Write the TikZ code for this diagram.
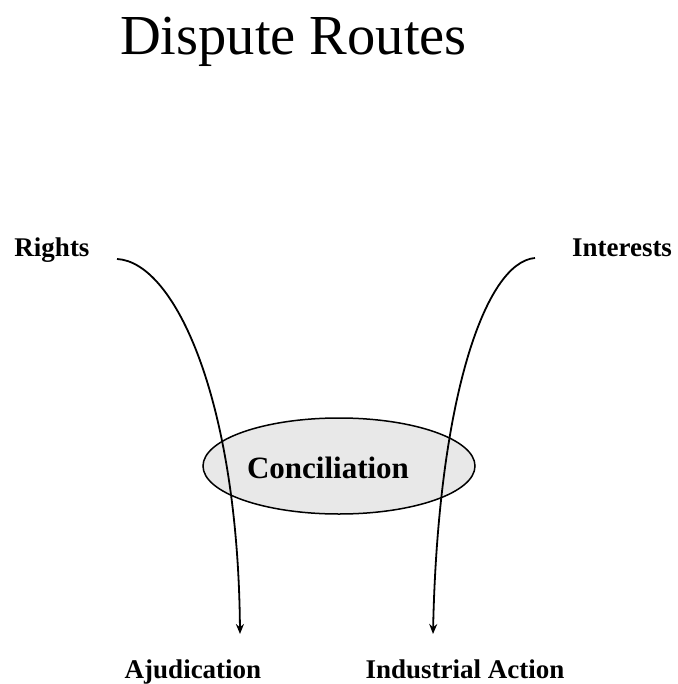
\documentclass[tikz,border=0pt]{standalone}
\usepackage{fontspec}
\setmainfont{Liberation Serif}
\usetikzlibrary{arrows.meta,shapes.geometric}
\begin{document}
\begin{tikzpicture}[x=1pt,y=-1pt,
  lbl/.style={font=\fontsize{27}{30}\selectfont\bfseries, inner sep=0pt, anchor=base},
  route/.style={line width=1.8pt, -{Stealth[length=10pt,width=8pt]}},
  bubble/.style={ellipse, draw=black, line width=1.5pt, fill=black!9, minimum width=272pt, minimum height=96pt, inner sep=0pt}]
\useasboundingbox (0,0) rectangle (677,684);
\node[font=\fontsize{56.5}{60}\selectfont, inner sep=0pt, anchor=base] (title) at (293.5,55) {Dispute Routes};
\node[lbl] (rights) at (52,257) {Rights};
\node[lbl] (interests) at (622,257) {Interests};
\node[bubble] (concil) at (339,466) {};
\node[font=\fontsize{31}{34}\selectfont\bfseries, inner sep=0pt, anchor=base] (conciltext) at (328,478) {Conciliation};
\node[lbl] (ajud) at (193,678) {Ajudication};
\node[lbl] (indus) at (465,678) {Industrial Action};
\coordinate (lstart) at (117,259);
\coordinate (lend) at (240,634);
\coordinate (rstart) at (535,258);
\coordinate (rend) at (433,634);
\draw[route] (lstart) .. controls (175,262) and (238,400) .. (lend);
\draw[route] (rstart) .. controls (485,262) and (438,400) .. (rend);
\end{tikzpicture}
\end{document}
